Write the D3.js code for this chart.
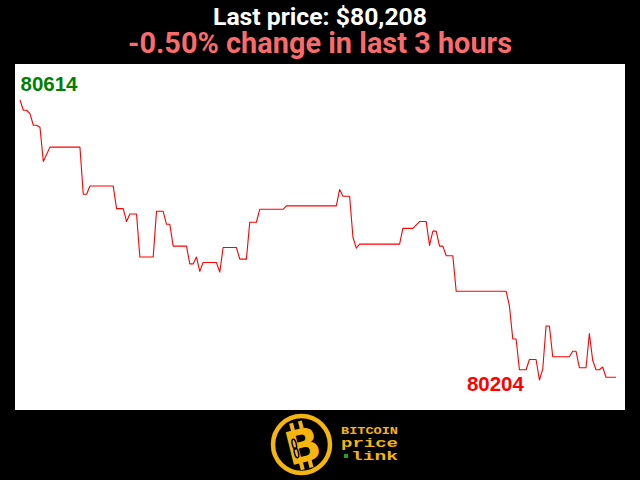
<!DOCTYPE html>
<html>
<head>
<meta charset="utf-8">
<script src="https://cdn.jsdelivr.net/npm/d3@7"></script>
<style>
  html, body { margin: 0; padding: 0; background: #000; }
  svg { display: block; }
</style>
</head>
<body>
<svg id="chart" width="640" height="480"></svg>
<script>
// ---- data (minute index within the last 3 hours, price in USD) ----
const minutes = [0,1,2,3,4,5,6,7,9,18,19,20,21,28,29,31,32,33,35,36,40,41,43,44,45,46,50,51,52,53,54,55,59,60,61,65,66,68,69,71,72,79,80,95,96,97,99,100,101,102,114,115,118,120,122,123,124,125,126,127,128,130,131,146,147,148,149,150,152,153,155,156,157,158,159,160,165,166,167,168,170,171,172,173,174,175,176,179];
const prices  = [80614,80599,80599,80594,80577,80577,80574,80524,80545,80545,80476,80476,80488,80488,80455,80455,80436,80447,80447,80384,80384,80451,80451,80432,80432,80400,80400,80374,80374,80384,80363,80376,80376,80362,80398,80398,80381,80381,80435,80435,80454,80454,80459,80459,80483,80473,80473,80413,80397,80403,80403,80426,80426,80436,80436,80401,80422,80422,80400,80400,80386,80386,80334,80334,80312,80264,80264,80219,80219,80234,80234,80204,80220,80283,80283,80238,80238,80246,80246,80222,80222,80272,80233,80219,80219,80223,80208,80208];
const titleText = "Last price: $80,208";
const subtitleText = "-0.50% change in last 3 hours";
const logoLines = ["BITCOIN", "price", "link"];

const svg = d3.select("#chart");
const W = 640, H = 480;

svg.append("rect").attr("width", W).attr("height", H).attr("fill", "#000");

// plot panel
svg.append("rect").attr("x", 15).attr("y", 64).attr("width", 610).attr("height", 346).attr("fill", "#fff");

const data = minutes.map((m, i) => ({ m, p: prices[i] }));
const maxP = d3.max(prices), minP = d3.min(prices);

const x = d3.scaleLinear().domain([0, 179]).range([20, 616]);
const y = d3.scaleLinear().domain([minP, maxP]).range([380, 100]);

svg.append("path")
  .datum(data)
  .attr("fill", "none")
  .attr("stroke", "#ff0000")
  .attr("stroke-width", 1.1)
  .attr("stroke-linejoin", "round")
  .attr("d", d3.line().x(d => x(d.m)).y(d => y(d.p)));

// max / min labels
const maxD = data.find(d => d.p === maxP);
const minD = data.find(d => d.p === minP);
svg.append("text")
  .attr("x", x(maxD.m) + 0.5).attr("y", y(maxD.p) - 9.5)
  .attr("font-family", "Liberation Sans, Arial, sans-serif")
  .attr("font-weight", "bold").attr("font-size", 20.5)
  .attr("fill", "#008000")
  .text(maxP);
svg.append("text")
  .attr("x", x(minD.m) - 15.5).attr("y", y(minD.p) + 10.7)
  .attr("text-anchor", "end")
  .attr("font-family", "Liberation Sans, Arial, sans-serif")
  .attr("font-weight", "bold").attr("font-size", 20.5)
  .attr("fill", "#ff0000")
  .text(minP);

// titles
svg.append("text")
  .attr("x", 320).attr("y", 24.5)
  .attr("text-anchor", "middle")
  .attr("font-family", "Roboto, 'Open Sans', sans-serif")
  .attr("font-weight", "bold").attr("font-size", 24)
  .attr("textLength", 214).attr("lengthAdjust", "spacingAndGlyphs")
  .attr("fill", "#fff")
  .text(titleText);
svg.append("text")
  .attr("x", 320).attr("y", 53)
  .attr("text-anchor", "middle")
  .attr("font-family", "Roboto, 'Open Sans', sans-serif")
  .attr("font-weight", "bold").attr("font-size", 29)
  .attr("textLength", 384).attr("lengthAdjust", "spacingAndGlyphs")
  .attr("fill", "#fa6b6b")
  .text(subtitleText);

// logo
const gold = "#f5b50f";
const logo = svg.append("g");
logo.append("circle").attr("cx", 301.5).attr("cy", 444.5).attr("r", 28.5)
  .attr("fill", "none").attr("stroke", gold).attr("stroke-width", 4.5);
const bg = logo.append("g").attr("transform", "translate(303,446) rotate(-14)");
bg.append("text")
  .attr("x", 0).attr("y", 16)
  .attr("text-anchor", "middle")
  .attr("font-family", "DejaVu Sans, sans-serif")
  .attr("font-weight", "bold").attr("font-size", 46)
  .attr("fill", gold)
  .text("B");
[-8, 1].forEach(dx => {
  bg.append("rect").attr("x", dx).attr("y", -25).attr("width", 4).attr("height", 8).attr("fill", gold);
  bg.append("rect").attr("x", dx).attr("y", 15).attr("width", 4).attr("height", 8).attr("fill", gold);
});
bg.append("ellipse").attr("cx", -8).attr("cy", -4).attr("rx", 2).attr("ry", 5).attr("fill", "none").attr("stroke", "#000").attr("stroke-width", 1.5);
bg.append("ellipse").attr("cx", -8).attr("cy", 5).attr("rx", 2).attr("ry", 5).attr("fill", "none").attr("stroke", "#000").attr("stroke-width", 1.5);

const monoFont = "'Liberation Mono', 'Courier New', monospace";
logo.append("text").attr("x", 341).attr("y", 433.5)
  .attr("font-family", monoFont)
  .attr("font-weight", "bold").attr("font-size", 11)
  .attr("textLength", 57).attr("lengthAdjust", "spacingAndGlyphs")
  .attr("fill", gold).text(logoLines[0]);
logo.append("text").attr("x", 341).attr("y", 446.5)
  .attr("font-family", monoFont)
  .attr("font-weight", "bold").attr("font-size", 12)
  .attr("textLength", 57).attr("lengthAdjust", "spacingAndGlyphs")
  .attr("fill", gold).text(logoLines[1]);
logo.append("rect").attr("x", 344).attr("y", 454).attr("width", 4).attr("height", 4).attr("fill", "#1fa31f");
logo.append("text").attr("x", 351).attr("y", 459.5)
  .attr("font-family", monoFont)
  .attr("font-weight", "bold").attr("font-size", 12)
  .attr("textLength", 47).attr("lengthAdjust", "spacingAndGlyphs")
  .attr("fill", gold).text(logoLines[2]);
</script>
</body>
</html>
